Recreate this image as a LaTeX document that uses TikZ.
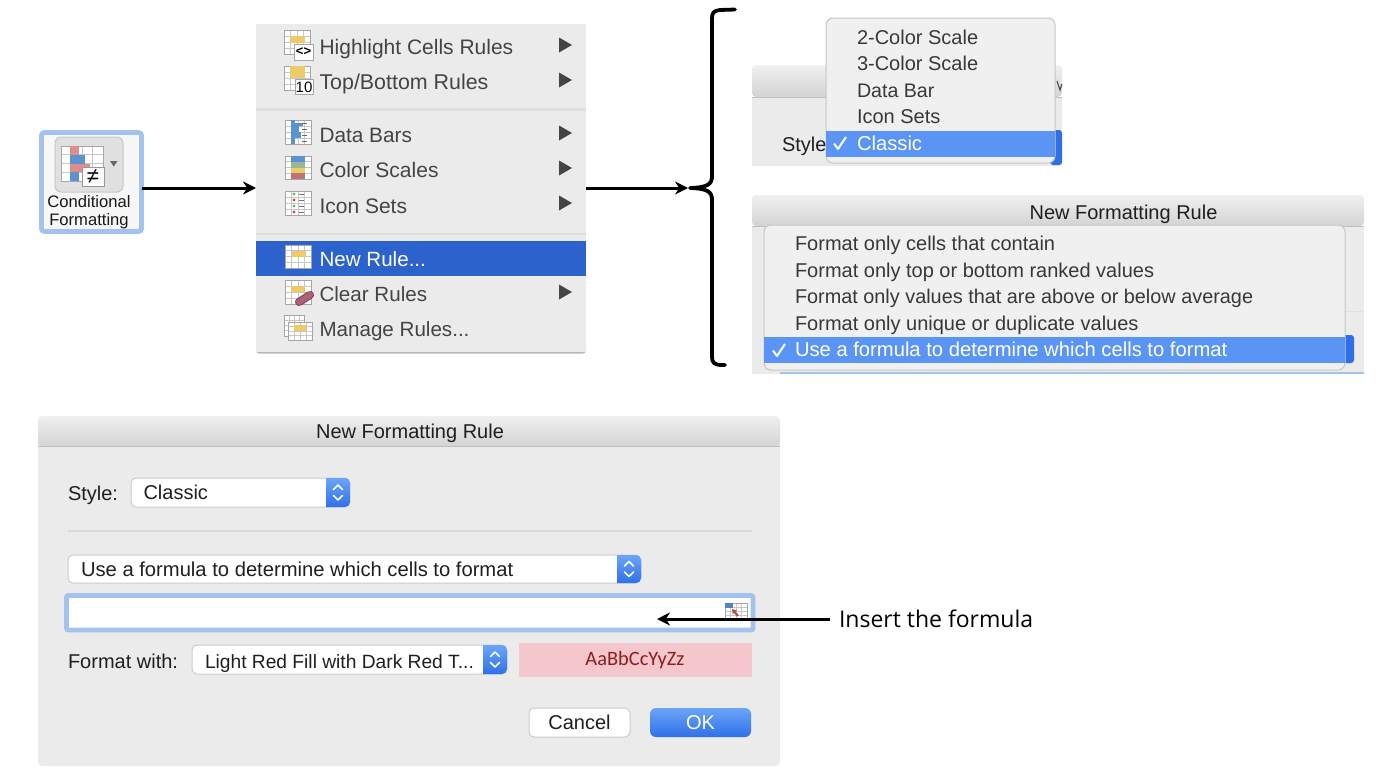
\documentclass[tikz,border=0pt]{standalone}
\usepackage{fontspec}
\setmainfont{Liberation Sans}
\newfontfamily\notefont{Open Sans}
\newfontfamily\prevfont{Carlito}
\usetikzlibrary{arrows.meta,fit,calc}
\definecolor{panelgray}{HTML}{EBEBEB}
\definecolor{popgray}{HTML}{F0F0F0}
\definecolor{rowblue}{HTML}{5A94F5}
\definecolor{menublue}{HTML}{2C62CB}
\definecolor{ringblue}{HTML}{A3C3EE}
\definecolor{menutextc}{HTML}{444444}
\definecolor{hiyellow}{HTML}{EFCB68}
\definecolor{barblue}{HTML}{5B93D1}
\definecolor{barred}{HTML}{DE8C8C}
\definecolor{stepdark}{HTML}{2F70E8}
\definecolor{steplight}{HTML}{6BA5F8}
\definecolor{prevpink}{HTML}{F4C7CD}
\definecolor{prevred}{HTML}{8F1D1D}
\definecolor{erasec}{HTML}{B0607A}
\tikzset{
  x=0.5pt,y=-0.5pt,
  every node/.style={inner sep=0pt,outer sep=0pt},
  txt/.style={anchor=base west,font=\fontsize{10}{12}\selectfont,text=black!88},
  menutxt/.style={anchor=base west,font=\fontsize{10.5}{12}\selectfont,text=menutextc},
  poptxt/.style={anchor=base west,font=\fontsize{10}{12}\selectfont,text=black!78},
  seltxt/.style={anchor=base west,font=\fontsize{10.1}{12}\selectfont,text=white},
  ctxt/.style={anchor=base,font=\fontsize{10}{12}\selectfont,text=black!88},
  conn/.style={draw=black,line width=1.5pt,-{Stealth[length=6.5pt,width=6.5pt]}},
  popupbox/.style={fill=popgray,draw=black!22,line width=.5pt,rounded corners=3.5pt},
  control/.style={fill=white,draw=black!20,line width=.5pt,rounded corners=2.5pt},
  gridln/.style={draw=black!22,line width=.3pt},
  tri/.style={fill=menutextc},
  chev/.style={draw=white,line width=.8pt,line cap=round,line join=round},
}
% named box from two corners
\newcommand{\bx}[6]{%
  \coordinate (#1-a) at (#2,#3);\coordinate (#1-b) at (#4,#5);
  \node[fit=(#1-a)(#1-b),#6] (#1) {};}
% table icon
\newcommand{\gicon}[4]{%
  \fill[white] (#1,#2) rectangle (#3,#4);
  \foreach \ff in {0.25,0.5,0.75}{
    \draw[gridln] ($(#1,#2)!\ff!(#1,#4)$) -- ($(#3,#2)!\ff!(#3,#4)$);
    \draw[gridln] ($(#1,#2)!\ff!(#3,#2)$) -- ($(#1,#4)!\ff!(#3,#4)$);}
  \draw[black!35,line width=.4pt] (#1,#2) rectangle (#3,#4);}
\newcommand{\menutri}[1]{\fill[tri] (559,{#1-7.5}) -- (572,#1) -- (559,{#1+7.5}) -- cycle;}
% window: body and title bar, rounded on the outer corners
\newcommand{\win}[5]{% x1 y1 x2 y2 titlebottom
  \fill[panelgray] (#1,#5) rectangle (#3,#4);
  \shade[top color=black!6,bottom color=black!17,rounded corners=2pt] (#1,#5) -- (#1,#2) -- (#3,#2) -- (#3,#5) -- cycle;
  \draw[black!25,line width=.4pt] (#1,#5) -- (#3,#5);}
% popup with blue stepper
\newcommand{\popctl}[6]{%
  \bx{#1}{#2}{#3}{#4}{#5}{control}
  \begin{scope}
    \clip[rounded corners=2.5pt] (#2,#3) rectangle (#4,#5);
    \shade[top color=steplight,bottom color=stepdark] (#6,#3) rectangle (#4,#5);
  \end{scope}
  \draw[chev] ({(#6+#4)/2-4.5},{(#3+#5)/2-3}) -- ({(#6+#4)/2},{(#3+#5)/2-7.5}) -- ({(#6+#4)/2+4.5},{(#3+#5)/2-3});
  \draw[chev] ({(#6+#4)/2-4.5},{(#3+#5)/2+3}) -- ({(#6+#4)/2},{(#3+#5)/2+7.5}) -- ({(#6+#4)/2+4.5},{(#3+#5)/2+3});}
\begin{document}
\begin{tikzpicture}
\useasboundingbox (0,0) rectangle (1380,782);

%% Conditional Formatting button
\bx{cf}{41.5}{132.5}{141.5}{231.5}{fill=black!3,draw=ringblue,line width=2.4pt,rounded corners=1.5pt}
\bx{cfbtn}{55}{137}{123}{192}{fill=black!12,draw=black!22,line width=.5pt,rounded corners=3pt}
\gicon{61}{146}{103}{181}
\fill[barred] (70,146) rectangle (79,155);
\fill[barblue] (70,155) rectangle (85,164);
\fill[barred] (70,164) rectangle (90,172);
\fill[barblue] (70,172) rectangle (79,181);
\bx{neq}{82}{167}{104}{186}{fill=white,draw=black!40,line width=.4pt}
\node[font=\fontsize{11}{12}\selectfont] (neqt) at (93,176.5) {≠};
\fill[black!60] (110,161) -- (117.5,161) -- (113.75,166.5) -- cycle;
\node[anchor=base,font=\fontsize{8.3}{10}\selectfont,text=black!90] (cf1) at (89,207) {Conditional};
\node[anchor=base,font=\fontsize{8.3}{10}\selectfont,text=black!90] (cf2) at (89,225) {Formatting};

%% Menu
\fill[black!28,rounded corners=1.5pt] (256,345) rectangle (586,353.5);
\bx{menu}{256}{24}{586}{352}{fill=panelgray}
\fill[black!13] (256,108) rectangle (586,111);
\fill[black!13] (256,232.5) rectangle (586,235);
\bx{menurow}{256}{241}{586}{276}{fill=menublue}
% icons
\gicon{284}{30}{310}{54}
\fill[hiyellow] (290,36) rectangle (305,43);
\bx{hib}{294}{44}{313}{60}{fill=white,draw=black!35,line width=.4pt}
\node[font=\fontsize{6.5}{7}\bfseries\selectfont] (hibt) at (303.5,51.5) {<>};
\gicon{284}{66}{310}{90}
\fill[hiyellow] (290,66) rectangle (305,78);
\bx{tbb}{295}{79}{313}{94}{fill=white,draw=black!35,line width=.4pt}
\node[font=\fontsize{7.5}{8}\selectfont] (tbbt) at (304,87) {10};
\gicon{285}{120}{311}{144}
\fill[barblue] (291,120) rectangle (295,144);
\fill[barblue] (295,123) rectangle (303,126);
\fill[barblue] (295,126) rectangle (299,132);
\fill[barblue] (295,132) rectangle (301,138);
\foreach \yy in {123,129,135,141}{\draw[black!60,line width=.4pt] (302,\yy) -- (307,\yy);}
\gicon{285}{156}{311}{179}
\fill[barblue] (291,156) rectangle (305,162);
\fill[green!30!black!40!white] (291,162) rectangle (305,168);
\fill[hiyellow] (291,168) rectangle (305,173);
\fill[red!55!black!55!white] (291,173) rectangle (305,179);
\gicon{285}{191}{311}{215}
\foreach \yy/\cc in {194/green!55!black!60,200/red!70!black!70,206/green!55!black!60,212/red!70!black!70}{
  \fill[\cc] (294,\yy) circle (1.7);
  \draw[black!55,line width=.4pt] (299,\yy) -- (304,\yy);}
\gicon{285}{245}{311}{268}
\fill[hiyellow] (292,251) rectangle (306,257);
\gicon{285}{280}{311}{304}
\fill[hiyellow] (291,286) rectangle (305,292);
\draw[line width=4pt,draw=erasec!70!black,line cap=round] (299,302) -- (310,295);
\draw[line width=3pt,draw=erasec,line cap=round] (299,302) -- (310,295);
\gicon{284}{315}{304}{336}
\gicon{288}{322}{312}{340}
\fill[hiyellow] (294,325) rectangle (306,331);
% labels
\node[menutxt] (m1) at (319.5,54) {Highlight Cells Rules};
\node[menutxt,font=\fontsize{10.7}{12}\selectfont] (m2) at (319.5,89) {Top/Bottom Rules};
\node[menutxt,font=\fontsize{10.4}{12}\selectfont] (m3) at (319.5,142) {Data Bars};
\node[menutxt] (m4) at (319.5,177) {Color Scales};
\node[menutxt] (m5) at (319.5,213) {Icon Sets};
\node[menutxt,text=white,font=\fontsize{10.3}{12}\selectfont] (m6) at (319.5,266) {New Rule...};
\node[menutxt,font=\fontsize{10.3}{12}\selectfont] (m7) at (319.5,301) {Clear Rules};
\node[menutxt,font=\fontsize{10.3}{12}\selectfont] (m8) at (319.5,336) {Manage Rules...};
\menutri{45}\menutri{80}\menutri{133}\menutri{168}\menutri{203}\menutri{292}

%% Brace
\coordinate (bracetip) at (688,188);
\draw[line width=1.9pt,line join=round,line cap=round] (735,9.5) -- (720,10) .. controls (714,10.5) and (712,13) .. (712,18) -- (712,176)
  .. controls (712,184) and (708,187.5) .. (690,188) .. controls (708,188.5) and (712,192) .. (712,200) -- (712,357)
  .. controls (712,362) and (714,364.5) .. (720,365) -- (725,365);

%% Top-right panel
\win{752}{65}{1062}{166}{97}
\bx{p1}{752}{65}{1062}{166}{}
\node[txt] (p1s) at (782,151) {Style};
\draw[black!75,line width=.5pt] (1057,81) -- (1060,90) -- (1062,84);
\fill[stepdark,rounded corners=1.5pt] (1050,130) rectangle (1062,165);
\bx{pop1}{826}{18}{1055}{163}{popupbox}
\fill[rowblue] (826.3,131) rectangle (1054.7,157);
\node[poptxt] (a1) at (857,44) {2-Color Scale};
\node[poptxt] (a2) at (857,70) {3-Color Scale};
\node[poptxt,font=\fontsize{9.8}{12}\selectfont] (a3) at (857,97) {Data Bar};
\node[poptxt] (a4) at (857,123) {Icon Sets};
\node[seltxt] (a5) at (857,150) {Classic};
\draw[white,line width=1pt,line join=round] (834,143.5) -- (838,149) -- (846,137);

%% Lower-right panel
\win{752}{195}{1364}{374}{226}
\bx{p2}{752}{195}{1364}{374}{}
\draw[black!12,line width=.4pt] (1345,311) -- (1364,311);
\node[ctxt] (p2t) at (1123.5,219) {New Formatting Rule};
\fill[ringblue] (780,372) rectangle (1364,374);
\fill[stepdark,rounded corners=1.5pt] (1340,335) rectangle (1354,363);
\bx{pop2}{764}{225}{1345}{370}{popupbox}
\fill[rowblue] (764.3,337) rectangle (1344.7,363);
\node[poptxt] (b1) at (795,250) {Format only cells that contain};
\node[poptxt] (b2) at (795,277) {Format only top or bottom ranked values};
\node[poptxt,font=\fontsize{9.93}{12}\selectfont] (b3) at (795,303) {Format only values that are above or below average};
\node[poptxt] (b4) at (795,330) {Format only unique or duplicate values};
\node[seltxt] (b5) at (795,356) {Use a formula to determine which cells to format};
\draw[white,line width=1pt,line join=round] (773,350.5) -- (777,356) -- (785,344);

%% Dialog
\fill[panelgray,rounded corners=2pt] (38,440) rectangle (780,766);
\win{38}{416}{780}{440}{446}
\bx{dlg}{38}{416}{780}{766}{}
\node[ctxt] (dt) at (410,438) {New Formatting Rule};
\node[txt] (ds) at (68,500) {Style:};
\popctl{pc1}{131}{478}{350}{507}{326}
\node[txt] (dc) at (143.5,499) {Classic};
\draw[black!15,line width=.6pt] (68,531) -- (752,531);
\popctl{pc2}{68}{555}{641}{583}{617}
\node[txt,font=\fontsize{10.1}{12}\selectfont] (df) at (81,576) {Use a formula to determine which cells to format};
\bx{input}{66.5}{595.5}{753}{630}{fill=white,draw=ringblue,line width=2.4pt,rounded corners=1pt}
\gicon{725}{603}{747}{620}
\fill[barblue!90!black] (725,603) rectangle (733,608);
\draw[red!60!black!70,line width=1.1pt,-{Stealth[length=2.5pt,width=3pt]}] (738,616) -- (732,609);
\node[txt] (dw) at (68,668) {Format with:};
\popctl{pc3}{192}{645}{507}{674}{483}
\node[txt,font=\fontsize{9.6}{12}\selectfont] (dl) at (205,668) {Light Red Fill with Dark Red T...};
\bx{prev}{519}{643}{752}{677}{fill=prevpink}
\node[font=\prevfont\fontsize{10.2}{12}\selectfont,text=prevred] (prevt) at (635,660) {AaBbCcYyZz};
\bx{cancel}{529}{708}{630}{737}{control}
\node[ctxt] at (579.5,729) (ct) {Cancel};
\bx{ok}{650}{708}{751}{737}{top color=steplight,bottom color=stepdark,rounded corners=3pt}
\node[ctxt,text=white] at (700.5,729) (okt) {OK};

%% Connectors
\coordinate (inserttip) at (657,619);
\node[anchor=west,font=\notefont\fontsize{11.5}{14}\selectfont,text=black] (note) at (839,619) {Insert the formula};
\draw[conn] (cf.east |- menu.west) -- (menu.west);
\draw[conn] (menu.east) -- (bracetip);
\draw[conn] ($(note.west)+(-9,0)$) -- (inserttip);
\end{tikzpicture}
\end{document}
